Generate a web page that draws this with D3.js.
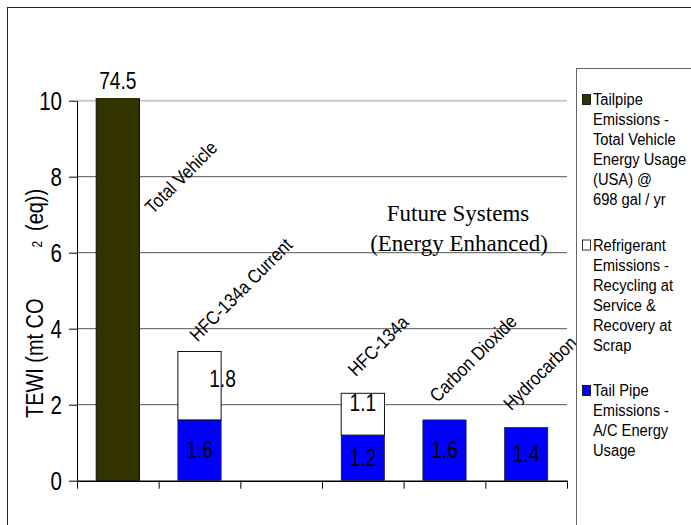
<!DOCTYPE html>
<html>
<head>
<meta charset="utf-8">
<script src="https://cdn.jsdelivr.net/npm/d3@7"></script>
<style>
  body { margin: 0; background: #fff; }
  text { font-family: "Liberation Sans", Arial, sans-serif; fill: #000; }
  .serif { font-family: "Liberation Serif", "Times New Roman", serif; }
</style>
</head>
<body>
<div id="chart"></div>
<script>
// categories along the x axis (third slot is an empty gap)
var categories = ["Total Vehicle", "HFC-134a Current", "", "HFC-134a", "Carbon Dioxide", "Hydrocarbon"];

// series values (mt CO2 eq)
var tailpipeTotal = [74.5, 0, 0, 0, 0, 0];
var refrigerant   = [0, 1.8, 0, 1.1, 0, 0];
var tailpipeAC    = [0, 1.6, 0, 1.2, 1.6, 1.4];

var seriesNames = [
  ["Tailpipe", "Emissions -", "Total Vehicle", "Energy Usage", "(USA) @", "698 gal / yr"],
  ["Refrigerant", "Emissions -", "Recycling at", "Service &", "Recovery at", "Scrap"],
  ["Tail Pipe", "Emissions -", "A/C Energy", "Usage"]
];
var yTicks = [0, 2, 4, 6, 8, 10];

var svgWidth = 691, svgHeight = 525;
var plot = {left: 77, right: 567, top: 100.7, bottom: 480.7};

var svg = d3.select("#chart").append("svg")
  .attr("width", svgWidth)
  .attr("height", svgHeight);

// small helper: text drawn condensed like the original narrow font
function label(parent, x, y, str, size, sx, anchor, rot) {
  var g = parent.append("g")
    .attr("transform", `translate(${x},${y}) rotate(${rot || 0}) scale(${sx},1)`);
  g.append("text")
    .attr("text-anchor", anchor || "start")
    .style("font-size", size + "px")
    .text(str);
  return g;
}

// outer chart border (runs off the page right/bottom)
svg.append("rect")
  .attr("x", 7.5).attr("y", 7.5)
  .attr("width", 720).attr("height", 560)
  .attr("fill", "none").attr("stroke", "#222");

// scales
var x = d3.scaleBand().domain(d3.range(categories.length))
  .range([plot.left, plot.right])
  .paddingInner(0.47).paddingOuter(0.235);
var xEdge = d3.scaleLinear().domain([0, categories.length]).range([plot.left, plot.right]);
var y = d3.scaleLinear().domain([0, 10]).range([plot.bottom, plot.top]);

// gridlines
svg.append("g").selectAll("line")
  .data(yTicks.filter(d => d > 0))
  .enter().append("line")
  .attr("x1", plot.left).attr("x2", plot.right)
  .attr("y1", d => y(d)).attr("y2", d => y(d))
  .attr("stroke", d => d === 10 ? "#c8c8c8" : "#555")
  .attr("stroke-width", d => d === 10 ? 2 : 1);

// stacked bars
var table = categories.map((c, i) => ({ac: tailpipeAC[i], refrigerant: refrigerant[i], total: tailpipeTotal[i]}));
var keys = ["ac", "refrigerant", "total"];
var fills = {ac: "#0000ff", refrigerant: "#ffffff", total: "#333300"};
var stacked = d3.stack().keys(keys)(table);

svg.append("clipPath").attr("id", "plotClip")
  .append("rect")
  .attr("x", plot.left).attr("y", y(10.07))
  .attr("width", plot.right - plot.left).attr("height", plot.bottom - y(10.07));

var bars = svg.append("g").attr("clip-path", "url(#plotClip)");
stacked.forEach(function(layer) {
  bars.selectAll(null)
    .data(layer.map((d, i) => ({d: d, i: i})).filter(o => o.d[1] > o.d[0]))
    .enter().append("rect")
    .attr("x", o => x(o.i))
    .attr("width", x.bandwidth())
    .attr("y", o => y(o.d[1]))
    .attr("height", o => y(o.d[0]) - y(o.d[1]))
    .attr("fill", fills[layer.key])
    .attr("stroke", "#111")
    .attr("stroke-width", layer.key === "ac" ? 0.6 : 1);
});

// axes
var yAxis = svg.append("g")
  .attr("transform", `translate(${plot.left},0)`)
  .call(d3.axisLeft(y).tickValues(yTicks).tickSize(8).tickSizeOuter(0).tickFormat(""));
yAxis.select(".domain").attr("stroke", "#000");

var xAxis = svg.append("g")
  .attr("transform", `translate(0,${plot.bottom})`)
  .call(d3.axisBottom(xEdge).tickValues(d3.range(categories.length + 1)).tickSize(8).tickSizeOuter(0).tickFormat(""));
xAxis.select(".domain").attr("stroke", "#000").attr("stroke-width", 1.5);

// y tick labels
yTicks.forEach(function(t) {
  label(svg, 62, y(t) + 9, String(t), 25, 0.82, "end");
});

// y axis title with its detached subscript
label(svg, 43, 418, "TEWI (mt CO", 24, 0.83, "start", -90);
label(svg, 42, 247.5, "2", 15, 0.8, "start", -90);
label(svg, 43, 231, "(eq))", 24, 0.83, "start", -90);

// value labels inside/above segments
var nudge = {"refrigerant-1": [23, 1], "refrigerant-3": [0, -3]};
stacked.forEach(function(layer) {
  layer.forEach(function(d, i) {
    var v = d[1] - d[0];
    if (v <= 0 || layer.key === "total") return;
    var n = nudge[layer.key + "-" + i] || [0, 8];
    var cx = x(i) + x.bandwidth() / 2 + n[0];
    var cy = (y(d[0]) + y(d[1])) / 2 + n[1];
    label(svg, cx, cy, d3.format(".1f")(v), 24, 0.8, "middle");
  });
});
// off-scale total shown above its clipped bar
label(svg, x(0) + x.bandwidth() / 2, y(10) - 12, String(tailpipeTotal[0]), 24, 0.8, "middle");

// rotated category labels (dx from bar centre, level on the value scale)
var catLabelPos = [[35, 7.0], [-2, 3.64], null, [-7, 2.72], [-7, 2.04], [-15, 1.83]];
categories.forEach(function(c, i) {
  if (!catLabelPos[i]) return;
  label(svg, x(i) + x.bandwidth() / 2 + catLabelPos[i][0], y(catLabelPos[i][1]), c, 19, 0.87, "start", -45);
});

// annotation
var note = svg.append("text").attr("class", "serif")
  .attr("text-anchor", "middle").style("font-size", "23px");
note.append("tspan").attr("x", 458).attr("y", 221).text("Future Systems");
note.append("tspan").attr("x", 459).attr("y", 251).text("(Energy Enhanced)");

// legend
svg.append("rect")
  .attr("x", 576.5).attr("y", 68.5)
  .attr("width", 200).attr("height", 500)
  .attr("fill", "#fff").attr("stroke", "#666");

var legendFills = ["#333300", "#ffffff", "#0000ff"];
var lineH = 20, groupGap = 25.5;
var yy = 105;
seriesNames.forEach(function(lines, k) {
  svg.append("rect")
    .attr("x", 582.5).attr("y", yy - 10.5)
    .attr("width", 8).attr("height", 10)
    .attr("fill", legendFills[k]).attr("stroke", "#000").attr("stroke-width", 0.8);
  lines.forEach(function(s, j) {
    label(svg, 593, yy + j * lineH, s, 16, 0.92, "start");
  });
  yy += lines.length * lineH + groupGap;
});
</script>
</body>
</html>
